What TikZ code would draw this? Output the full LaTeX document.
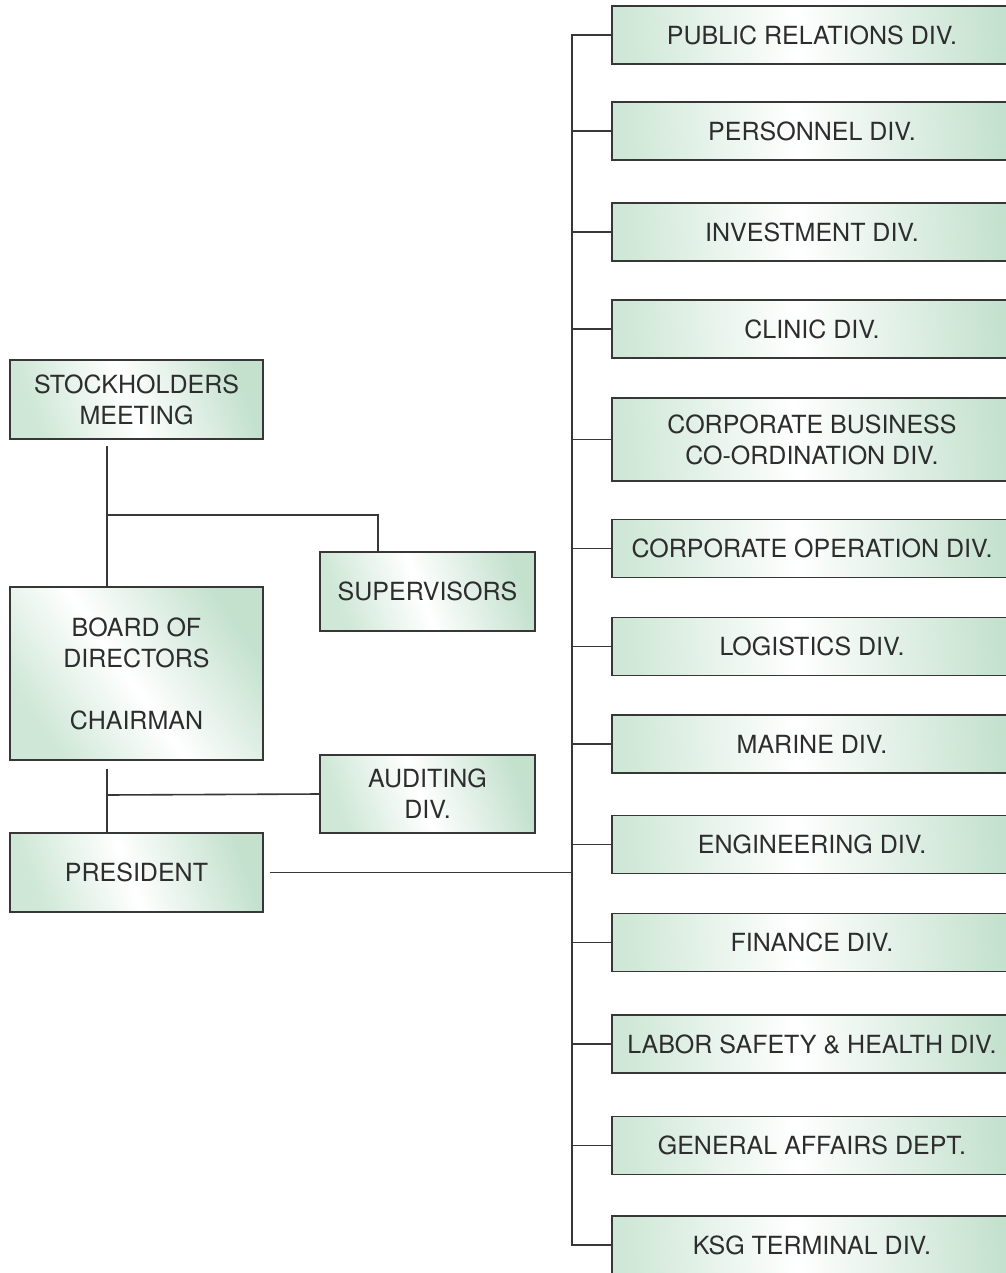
\documentclass[tikz,border=0pt]{standalone}
\usepackage{fontspec}
\setmainfont{TeX Gyre Heros}
\usepackage{tikz}
\usetikzlibrary{positioning}
\definecolor{oggreen}{RGB}{196,225,206}
\definecolor{oglightgreen}{RGB}{206,231,214}
\definecolor{ogline}{RGB}{55,55,55}
\definecolor{ogtext}{RGB}{45,45,45}
\pgfdeclarehorizontalshading{ogshade}{100bp}{color(0bp)=(oglightgreen); color(25bp)=(oglightgreen); color(48bp)=(white); color(75bp)=(oggreen); color(100bp)=(oggreen)}
\tikzstyle{unit} = [rectangle, draw=ogline, line width=1.6pt, shading=ogshade, shading angle=20, text=ogtext, align=center, inner sep=0pt]
\tikzstyle{board} = [unit, minimum width=253pt, minimum height=79pt]
\tikzstyle{side} = [unit, minimum width=215pt, minimum height=79pt]
\tikzstyle{division} = [unit, minimum width=400pt, minimum height=58pt, shading angle=4]
\tikzstyle{link} = [line width=1.6pt, color=ogline]

\begin{document}
\begin{tikzpicture}[x=1pt, y=-1pt, every node/.style={font=\fontsize{25}{31}\selectfont}]
\useasboundingbox (0,0) rectangle (1005,1273);

% Left column
\node[board] (sh) at (136.5,399.5) {STOCKHOLDERS\\MEETING};
\node[board, minimum height=173pt, shading angle=35] (bod) at (136.5,673.5) {BOARD OF\\DIRECTORS\\[31pt]CHAIRMAN};
\node[board] (pres) at (136.5,872.5) {PRESIDENT};
\node[side] (sup) at (427.5,591.5) {SUPERVISORS};
\node[side, minimum height=78pt] (aud) at (427.5,794) {AUDITING\\DIV.};

% Divisions
\node[division] (pr) at (812,35) {PUBLIC RELATIONS DIV.};
\node[division] (pers) at (812,131) {PERSONNEL DIV.};
\node[division] (inv) at (812,232) {INVESTMENT DIV.};
\node[division] (clin) at (812,329) {CLINIC DIV.};
\node[division, minimum height=83pt] (cbc) at (812,439.5) {CORPORATE BUSINESS\\CO-ORDINATION DIV.};
\node[division] (cop) at (812,548.5) {CORPORATE OPERATION DIV.};
\node[division] (logi) at (812,646.5) {LOGISTICS DIV.};
\node[division] (mar) at (812,744) {MARINE DIV.};
\node[division] (eng) at (812,844.5) {ENGINEERING DIV.};
\node[division] (fin) at (812,942.5) {FINANCE DIV.};
\node[division] (lsh) at (812,1044) {LABOR SAFETY \& HEALTH DIV.};
\node[division] (ga) at (812,1145.5) {GENERAL AFFAIRS DEPT.};
\node[division] (ksg) at (812,1245) {KSG TERMINAL DIV.};

% Junctions
\coordinate (spine) at (107,0);
\coordinate (trunk) at (572,0);
\coordinate (j1) at (107,515);
\coordinate (j1s) at (378,515);
\coordinate (j2) at (107,795);

% Connections
\draw[link, shorten <=6pt] (sh.south -| spine) -- (bod.north -| spine);
\draw[link] (j1) -- (j1s) -- (j1s |- sup.north);
\draw[link, shorten <=8pt] (bod.south -| spine) -- (pres.north -| spine);
\draw[link] (j2) -- (aud.west);
\draw[link, shorten <=6pt] (pres.east) -- (pres.east -| trunk);
\draw[link] (pr.west) -- (pr.west -| trunk) -- (ksg.west -| trunk) -- (ksg.west);
\foreach \d in {pers,inv,clin,cbc,cop,logi,mar,eng,fin,lsh,ga}
  \draw[link] (\d.west) -- (\d.west -| trunk);
\end{tikzpicture}
\end{document}
